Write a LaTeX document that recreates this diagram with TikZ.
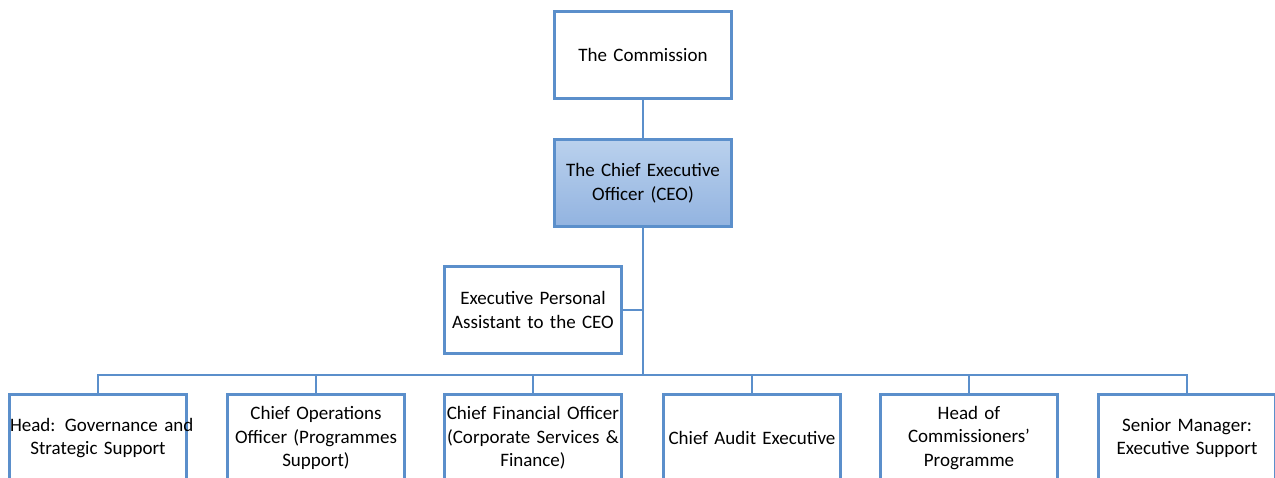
\documentclass[tikz,border=0pt]{standalone}
\usepackage{fontspec}
\setmainfont{Carlito}
\usetikzlibrary{positioning}
\hyphenpenalty=10000

\definecolor{orgline}{HTML}{5B8FCB}
\definecolor{ceotop}{HTML}{BAD1ED}
\definecolor{ceobot}{HTML}{92B3E0}

\tikzset{
  post/.style={draw=orgline, line width=2.8pt, fill=white, minimum width=177pt,
    minimum height=87pt, text width=176pt, align=center, inner sep=0pt,
    font=\fontsize{19}{23.5}\selectfont},
  link/.style={draw=orgline, line width=2.8pt},
}

\begin{document}
\begin{tikzpicture}[x=1pt,y=-1pt]
  \useasboundingbox (0,0) rectangle (1275,478);
  \clip (0,0) rectangle (1275,478);

  \node[post] (comm) at (643,55) {The Commission};
  \node[post, top color=ceotop, bottom color=ceobot] (ceo) at (643,183) {The Chief Executive\\Officer (CEO)};
  \node[post] (epa) at (533,310) {Executive Personal\\Assistant to the CEO};
  \coordinate (bus) at (643,375);

  % bottom row
  \node[post] (gov) at (98,438) {\mbox{Head: Governance and}\\Strategic Support};
  \node[post] (coo) at (316,438) {Chief Operations\\Officer (Programmes\\Support)};
  \node[post] (cfo) at (533,438) {Chief Financial Officer\\(Corporate Services \&\\Finance)};
  \node[post] (cae) at (752,438) {Chief Audit Executive};
  \node[post] (hcp) at (969,438) {Head of\\Commissioners’\\Programme};
  \node[post] (sms) at (1187,438) {Senior Manager:\\Executive Support};

  \draw[link] (comm) -- (ceo);
  \draw[link] (ceo) -- (bus);
  \draw[link] (epa.east) -- (epa.east -| ceo);
  \draw[link] (gov.north) |- (bus) -| (sms.north);
  \foreach \n in {coo,cfo,cae,hcp}
    \draw[link] (\n.north) -- (\n.north |- bus);
\end{tikzpicture}
\end{document}
